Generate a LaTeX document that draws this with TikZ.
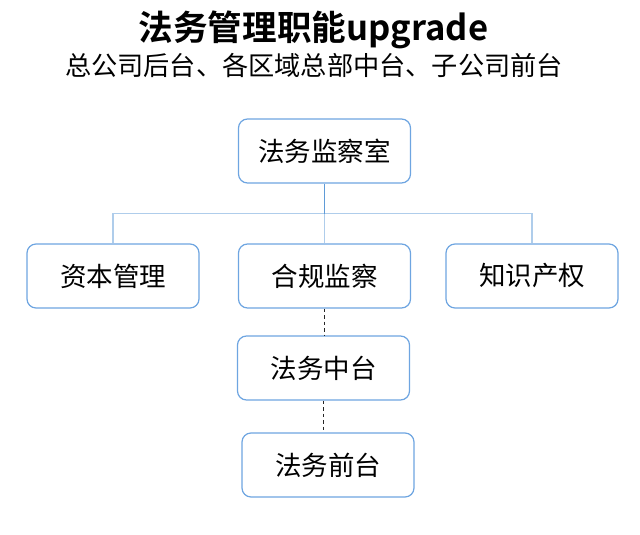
\documentclass[tikz,border=0pt]{standalone}
\usepackage{fontspec}
\setmainfont{Noto Sans CJK SC}[BoldFont={Noto Sans CJK SC Bold}]
\definecolor{boxblue}{RGB}{110,165,225}
\definecolor{linedark}{RGB}{95,155,215}
\definecolor{linelight}{RGB}{175,205,235}
\tikzset{
  orgbox/.style={draw=boxblue, line width=1.2pt, rounded corners=9pt, fill=white,
    minimum width=172pt, minimum height=64pt, inner sep=0pt, font=\fontsize{26.5}{30}\selectfont},
  treeline/.style={draw=linelight, line width=1.1pt},
  stemline/.style={draw=linedark, line width=1.4pt},
  dashline/.style={draw=black!85, line width=1.2pt, dash pattern=on 3.5pt off 3pt}
}
\begin{document}
\begin{tikzpicture}[x=1pt,y=-1pt]
\useasboundingbox (0,0) rectangle (640,535);
\node[font=\bfseries\fontsize{34.6}{38}\selectfont] (title) at (313.5,30) {法务管理职能upgrade};
\node[font=\fontsize{26.2}{30}\selectfont] (sub) at (314,65) {总公司后台、各区域总部中台、子公司前台};

\node[orgbox] (top) at (324.5,151) {法务监察室};
\node[orgbox] (cap) at (113,276) {资本管理};
\node[orgbox] (comp) at (324.5,276) {合规监察};
\node[orgbox] (ip) at (532,276) {知识产权};
\node[orgbox] (mid) at (323.5,368) {法务中台};
\node[orgbox] (front) at (328,465) {法务前台};

\coordinate (bus) at (324.5,213.5);
\draw[treeline] (cap.north) |- (bus) -| (ip.north);
\draw[treeline] (bus) -- (comp.north);
\draw[stemline] (top.south) -- (bus);
\draw[dashline] (comp.south) -- (comp.south |- mid.north);
\draw[dashline] (mid.south) -- (mid.south |- front.north);
\end{tikzpicture}
\end{document}
